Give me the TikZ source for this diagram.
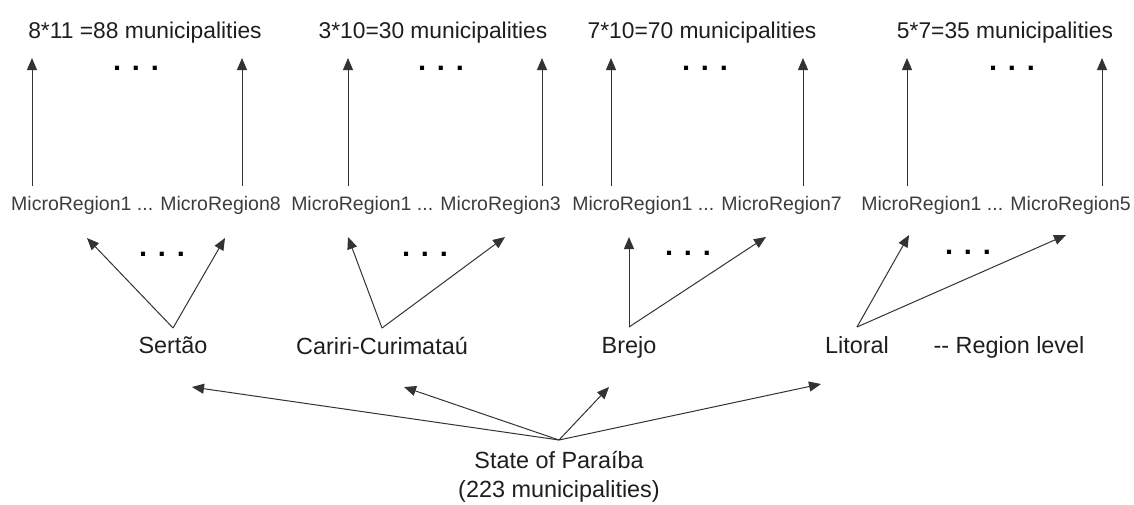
\documentclass[tikz,border=0pt]{standalone}
\usepackage{fontspec}
\setmainfont{Liberation Sans}
\usetikzlibrary{arrows.meta}
\definecolor{inkgray}{HTML}{1e1e1e}
\definecolor{softgray}{HTML}{3c3c3c}
\definecolor{linegray}{HTML}{333333}

\begin{document}
\begin{tikzpicture}[x=1pt, y=-1pt,
    total/.style={font=\fontsize{22.8}{27}\selectfont, anchor=base,
                  inner sep=0pt, text=inkgray},
    micro/.style={font=\fontsize{19.5}{23}\selectfont, anchor=base,
                  inner sep=0pt, text=softgray},
    region/.style={font=\fontsize{23.4}{29}\selectfont, anchor=north,
                   inner xsep=0pt, inner ysep=9pt, text=inkgray},
    dots/.style={font=\bfseries\fontsize{29}{29}\selectfont,
                 anchor=base, inner sep=0pt, text=black},
    arr/.style={-{Triangle[length=12pt, width=10pt]}, line width=1pt, linegray}
  ]
  \useasboundingbox (0,0) rectangle (1134,504);

  % municipality totals
  \node[total] (tot1) at (145,38)  {8*11 =88 municipalities};
  \node[total] (tot2) at (433,38)  {3*10=30 municipalities};
  \node[total] (tot3) at (702,38)  {7*10=70 municipalities};
  \node[total] (tot4) at (1005,38) {5*7=35 municipalities};

  \node[dots] (dt1) at (136,70)  {. . .};
  \node[dots] (dt2) at (441,70)  {. . .};
  \node[dots] (dt3) at (705,70)  {. . .};
  \node[dots] (dt4) at (1012,70) {. . .};

  % micro regions
  \node[micro] (mr1) at (146,210) {MicroRegion1 ... MicroRegion8};
  \node[micro] (mr2) at (426,210) {MicroRegion1 ... MicroRegion3};
  \node[micro] (mr3) at (707,210) {MicroRegion1 ... MicroRegion7};
  \node[micro] (mr4) at (996,210) {MicroRegion1 ... MicroRegion5};

  \foreach \x [count=\i] in {32,242,348,542,611,803,907,1102} {
    \coordinate (lo\i) at (\x,186);
    \coordinate (hi\i) at (\x,58);
    \draw[arr] (lo\i) -- (hi\i);
  }

  \node[dots] (db1) at (162,256) {. . .};
  \node[dots] (db2) at (425,256) {. . .};
  \node[dots] (db3) at (688,255) {. . .};
  \node[dots] (db4) at (968,254) {. . .};

  % region level
  \node[region] (sertao)  at (173,328) {Sertão};
  \node[region] (cariri)  at (382,328) {Cariri-Curimataú};
  \node[region] (brejo)   at (629,327) {Brejo};
  \node[region] (litoral) at (857,327) {Litoral};
  \node[region] (lvl)     at (1009,327) {-{}- Region level};

  \coordinate (se-l) at (87,238);   \coordinate (se-r) at (225,238);
  \coordinate (ca-l) at (348,237);  \coordinate (ca-r) at (505,237);
  \coordinate (br-l) at (629,237);  \coordinate (br-r) at (766,237);
  \coordinate (li-l) at (909,235);  \coordinate (li-r) at (1066,235);

  \draw[arr] (sertao.north)  -- (se-l);
  \draw[arr] (sertao.north)  -- (se-r);
  \draw[arr] (cariri.north)  -- (ca-l);
  \draw[arr] (cariri.north)  -- (ca-r);
  \draw[arr] (brejo.north)   -- (br-l);
  \draw[arr] (brejo.north)   -- (br-r);
  \draw[arr] (litoral.north) -- (li-l);
  \draw[arr] (litoral.north) -- (li-r);

  % state
  \node[region, align=center, inner ysep=11pt] (state) at (559,440)
    {State of Paraíba\\(223 municipalities)};

  \coordinate (st1) at (192,387);
  \coordinate (st2) at (404,387);
  \coordinate (st3) at (609,387);
  \coordinate (st4) at (821,384);

  \draw[arr] (state.north) -- (st1);
  \draw[arr] (state.north) -- (st2);
  \draw[arr] (state.north) -- (st3);
  \draw[arr] (state.north) -- (st4);
\end{tikzpicture}
\end{document}
